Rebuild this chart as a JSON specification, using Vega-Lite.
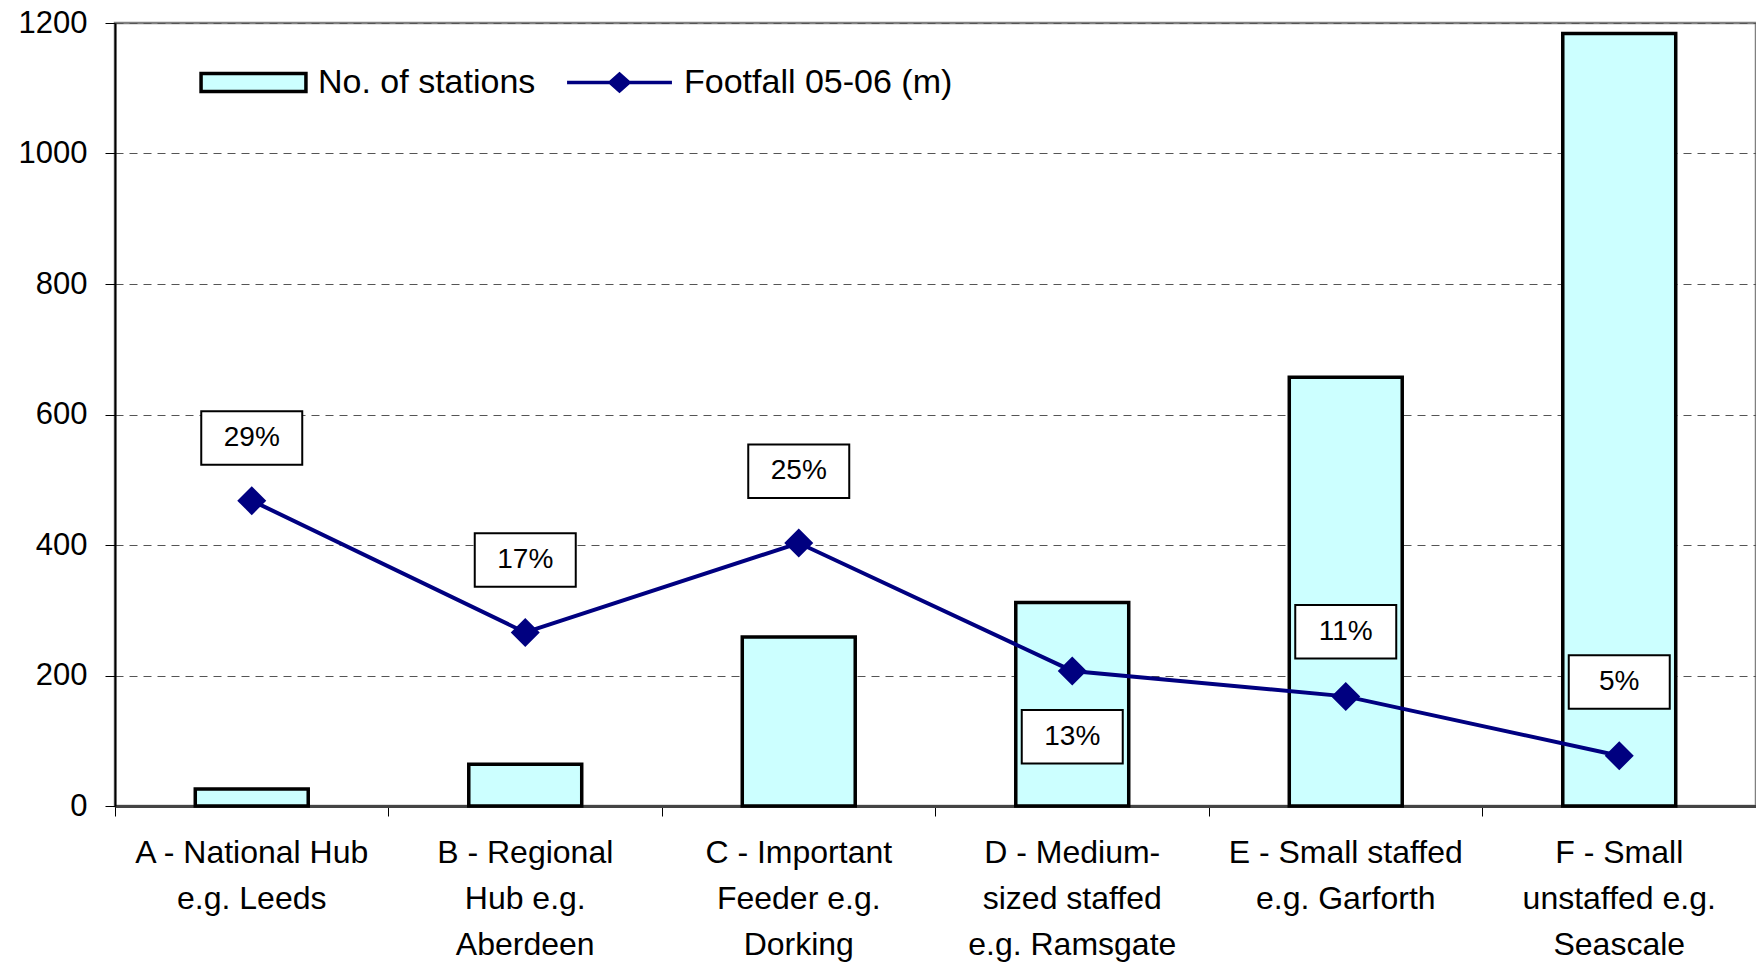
{
  "$schema": "https://vega.github.io/schema/vega-lite/v6.json",
  "width": 1641,
  "height": 783,
  "autosize": {"type": "none"},
  "padding": {"left": 115, "top": 23, "right": 0, "bottom": 158},
  "background": "white",
  "config": {"font": "Liberation Sans", "view": {"stroke": "#808080", "strokeWidth": 2.5}},
  "data": {
    "values": [
      {"category": "A - National Hub|e.g. Leeds", "stations": 26, "footfall": 468, "pct": "29%", "label_y": 564},
      {"category": "B - Regional|Hub e.g.|Aberdeen", "stations": 64, "footfall": 266, "pct": "17%", "label_y": 377},
      {"category": "C - Important|Feeder e.g.|Dorking", "stations": 259, "footfall": 403, "pct": "25%", "label_y": 513},
      {"category": "D - Medium-|sized staffed|e.g. Ramsgate", "stations": 312, "footfall": 207, "pct": "13%", "label_y": 106},
      {"category": "E - Small staffed|e.g. Garforth", "stations": 657, "footfall": 168, "pct": "11%", "label_y": 267},
      {"category": "F - Small|unstaffed e.g.|Seascale", "stations": 1184, "footfall": 77, "pct": "5%", "label_y": 190}
    ]
  },
  "encoding": {
    "x": {
      "field": "category", "type": "nominal", "sort": null,
      "scale": {"paddingInner": 0.587, "paddingOuter": 0.2935},
      "axis": {
        "title": null, "labelAngle": 0, "labelExpr": "split(datum.value, '|')",
        "labelFontSize": 32, "labelColor": "black", "labelLineHeight": 46,
        "labelPadding": 21, "labelBaseline": "top", "labelLimit": 0,
        "tickSize": 10, "tickColor": "black", "bandPosition": -0.71,
        "domainColor": "#444444", "domainWidth": 3, "labelFlush": false, "labelOverlap": false
      }
    }
  },
  "layer": [
    {
      "mark": {"type": "bar", "stroke": "black", "strokeWidth": 3.5, "opacity": 1},
      "encoding": {
        "y": {
          "field": "stations", "type": "quantitative",
          "scale": {"domain": [0, 1200], "nice": false},
          "axis": {
            "title": null, "values": [0, 200, 400, 600, 800, 1000, 1200], "format": "d",
            "labelFontSize": 31, "labelColor": "black", "labelPadding": 18,
            "tickSize": 10, "tickColor": "black", "domainColor": "black", "domainWidth": 2,
            "gridColor": "#555555", "gridDash": [8, 6], "gridWidth": 1,
            "minExtent": 115, "maxExtent": 115
          }
        },
        "fill": {
          "datum": "No. of stations", "type": "nominal",
          "scale": {"domain": ["No. of stations"], "range": ["#CCFFFF"]},
          "legend": {
            "orient": "none", "legendX": 84, "legendY": 5, "title": null,
            "labelFontSize": 34, "labelFont": "Liberation Sans", "labelColor": "black",
            "labelOffset": 10, "symbolSize": 11000, "padding": 0, "labelLimit": 0,
            "symbolType": "M-1,-0.17H1V0.17H-1Z",
            "symbolStrokeColor": "black", "symbolStrokeWidth": 3.5, "symbolOpacity": 1
          }
        }
      }
    },
    {
      "mark": {"type": "line", "strokeWidth": 4},
      "encoding": {
        "y": {"field": "footfall", "type": "quantitative"},
        "stroke": {
          "datum": "Footfall 05-06 (m)", "type": "nominal",
          "scale": {"domain": ["Footfall 05-06 (m)"], "range": ["#000080"]},
          "legend": {
            "orient": "none", "legendX": 450, "legendY": 5, "title": null,
            "labelFontSize": 34, "labelFont": "Liberation Sans", "labelColor": "black",
            "labelOffset": 10, "symbolSize": 11000, "padding": 0, "labelLimit": 0,
            "symbolType": "M-1,0H1M0,-0.16L0.18,0L0,0.16L-0.18,0ZM0,-0.1L0.11,0L0,0.1L-0.11,0ZM0,-0.035L0.04,0L0,0.035L-0.04,0Z",
            "symbolFillColor": "#000080", "symbolStrokeWidth": 3.5, "symbolOpacity": 1
          }
        }
      }
    },
    {
      "mark": {"type": "point", "shape": "M0,-1L1,0L0,1L-1,0Z", "size": 841, "filled": true, "fill": "#000080", "opacity": 1},
      "encoding": {
        "y": {"field": "footfall", "type": "quantitative"}
      }
    },
    {
      "mark": {"type": "point", "shape": "M-1,-0.53H1V0.53H-1Z", "size": 10200, "filled": true, "fill": "white", "stroke": "black", "strokeWidth": 2, "opacity": 1},
      "encoding": {
        "y": {"field": "label_y", "type": "quantitative"}
      }
    },
    {
      "mark": {"type": "text", "fontSize": 28, "font": "Liberation Sans", "color": "black", "baseline": "middle", "align": "center"},
      "encoding": {
        "y": {"field": "label_y", "type": "quantitative"},
        "text": {"field": "pct", "type": "nominal"}
      }
    }
  ]
}
